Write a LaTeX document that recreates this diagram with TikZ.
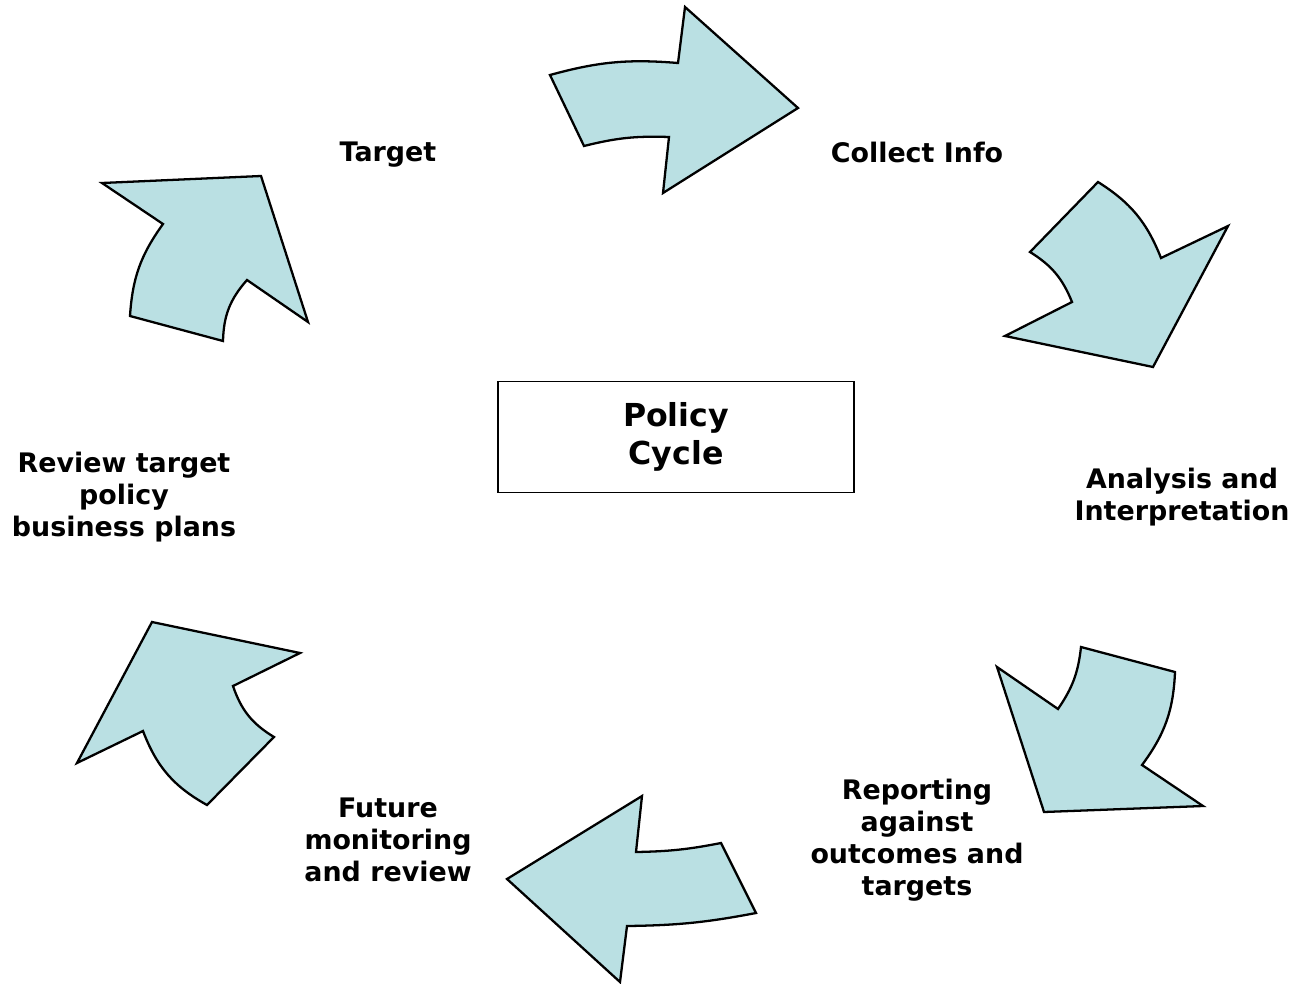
\documentclass[tikz,border=0pt]{standalone}
\usepackage{fontspec}
\setmainfont{DejaVu Sans}
\definecolor{arrowfill}{RGB}{186,224,227}

\begin{document}
\begin{tikzpicture}[
  x=0.02cm, y=-0.02cm,
  cycle arrow/.style={
    fill=arrowfill, draw=black, line width=1.3pt, line join=miter
  },
  stage/.style={
    font=\bfseries\fontsize{15.3}{18.2}\selectfont, align=center
  },
  title box/.style={
    draw, line width=0.9pt, minimum width=7.12cm, minimum height=2.22cm,
    font=\bfseries\fontsize{18}{21.6}\selectfont, align=center
  }
  ]
  \useasboundingbox (0,0) rectangle (1297,983);

  % centre
  \node[title box] (policy) at (676,437) {Policy\\Cycle};

  % stages
  \node[stage] (target) at (388,155) {Target};
  \node[stage] (collect) at (917,152) {Collect Info};
  \node[stage] (analysis) at (1182,497) {Analysis and\\Interpretation};
  \node[stage] (report) at (917,840) {Reporting\\against\\outcomes and\\targets};
  \node[stage] (future) at (388,840) {Future\\monitoring\\and review};
  \node[stage] (review) at (124,497) {Review target\\policy\\business plans};

  % arrows, clockwise from the top
  \draw[cycle arrow] (550,75) to[bend left=10] (678,63) -- (685,7) -- (798,108)
    -- (663,193) -- (669,137) to[bend right=8] (584,146) -- cycle;
  \draw[cycle arrow] (1098,182) to[bend left=18] (1161,258) -- (1228,226)
    -- (1153,367) -- (1005,336) -- (1072,302) to[bend right=18] (1030,252) -- cycle;
  \draw[cycle arrow] (1081,647) -- (1175,672) to[bend left=17] (1142,765)
    -- (1203,806) -- (1044,812) -- (997,667) -- (1058,709) to[bend right=14] cycle;
  \draw[cycle arrow] (642,796) -- (636,852) to[bend right=5] (721,843)
    -- (756,913) to[bend left=5] (627,926) -- (620,982) -- (507,879) -- cycle;
  \draw[cycle arrow] (152,622) -- (300,653) -- (233,686) to[bend right=20] (274,737)
    -- (207,805) to[bend left=20] (143,731) -- (77,763) -- cycle;
  \draw[cycle arrow] (102,183) -- (261,176) -- (308,322) -- (247,280)
    to[bend right=20] (223,341) -- (130,316) to[bend left=16] (163,224) -- cycle;
\end{tikzpicture}
\end{document}
